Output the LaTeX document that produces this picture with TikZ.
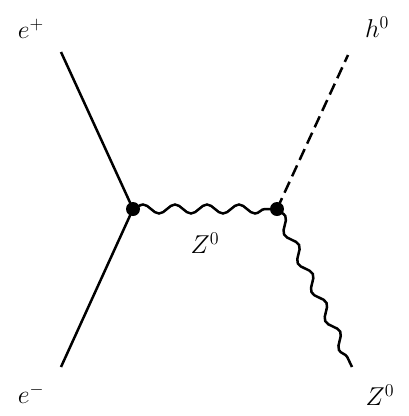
\documentclass[tikz,border=0pt]{standalone}
\usetikzlibrary{decorations.pathmorphing}
\newcommand{\biglbl}[1]{\scalebox{1.25}{\huge$#1$}}
\begin{document}
\begin{tikzpicture}[x=1bp,y=-1bp,
  fermion/.style={line width=2.5bp},
  boson/.style={line width=2.5bp, decorate, decoration={snake, amplitude=4.5bp, segment length=32bp}},
  scalar/.style={line width=2.5bp, dash pattern=on 12bp off 6bp},
  vtx/.style={circle, fill=black, inner sep=0pt, minimum size=14bp},
  lbl/.style={inner sep=0pt}]
\useasboundingbox (0,0) rectangle (409,416);
\coordinate (ep) at (61,52);
\coordinate (em) at (61,367);
\coordinate (h) at (348,55);
\coordinate (z) at (352,367);
\node[vtx] (v1) at (133,209) {};
\node[vtx] (v2) at (277,209) {};
\draw[fermion] (ep) -- (v1.center);
\draw[fermion] (em) -- (v1.center);
\draw[scalar] (v2.center) -- (h);
\draw[boson] (v1.center) -- (v2.center);
\draw[boson] (v2.center) -- (z);
\node[lbl] (lep) at (31,29) {\biglbl{e^+}};
\node[lbl] (lem) at (31,394) {\biglbl{e^-}};
\node[lbl] (lh) at (377,27) {\biglbl{h^0}};
\node[lbl] (lz) at (380,395) {\biglbl{Z^0}};
\node[lbl] (lzm) at (205,243) {\biglbl{Z^0}};
\end{tikzpicture}
\end{document}
